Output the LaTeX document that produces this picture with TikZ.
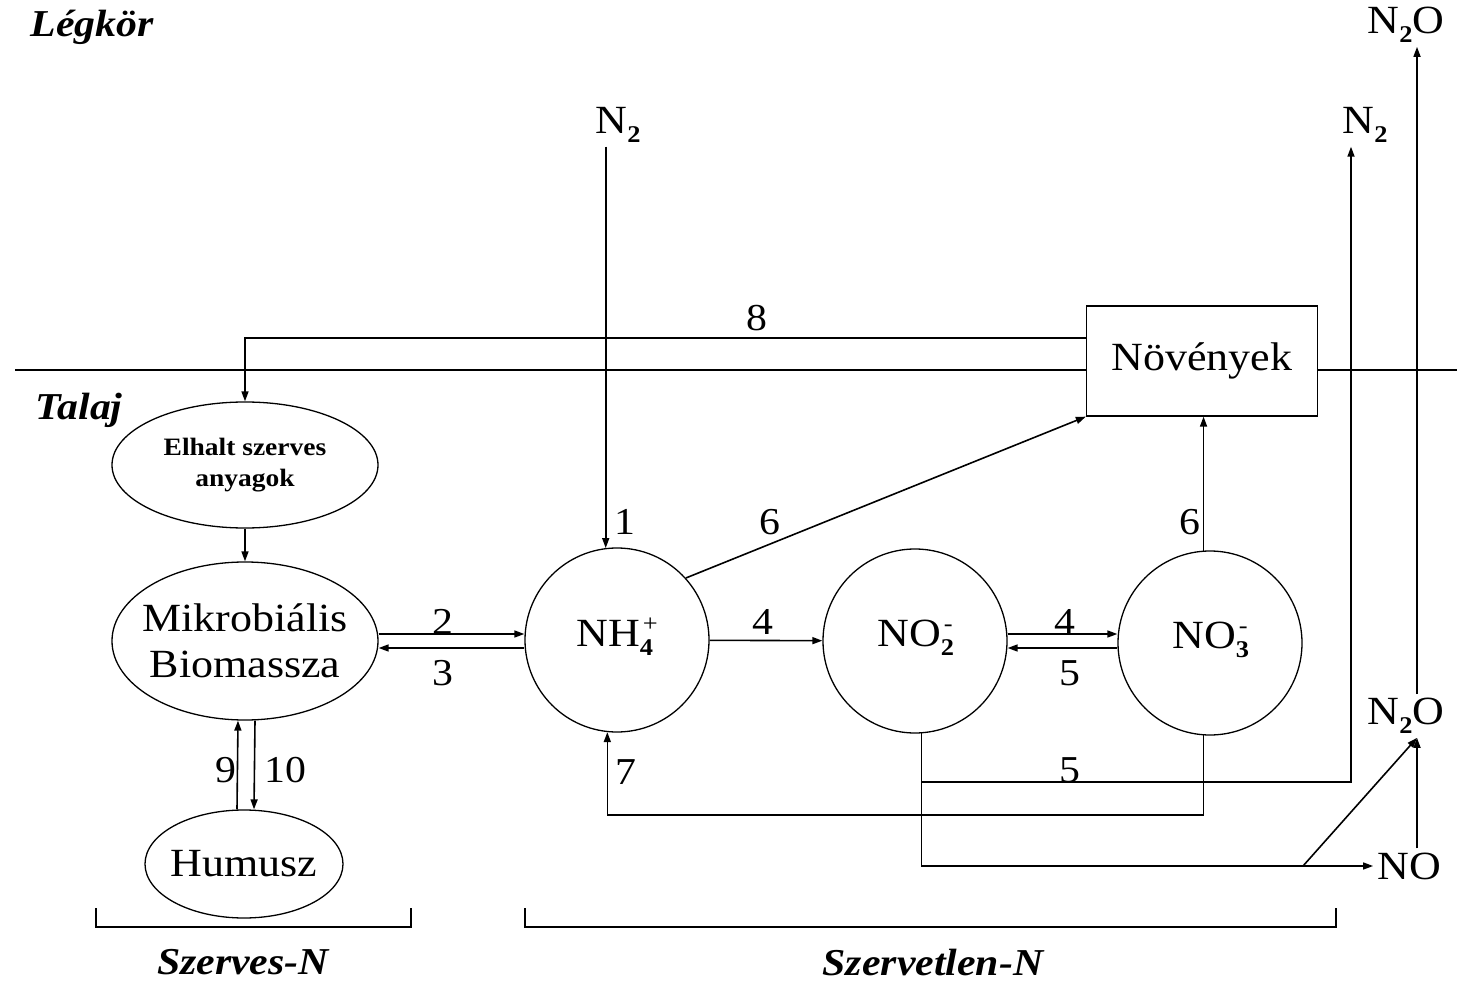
\documentclass[tikz,border=0pt]{standalone}
\usepackage{fontspec}
\setmainfont{Liberation Serif}[FakeStretch=1.1]
\usetikzlibrary{shapes.geometric,arrows.meta,positioning}

\newcommand{\txt}{\fontsize{40}{46}\selectfont}
\newcommand{\idx}{\fontsize{24}{24}\selectfont\bfseries}
\newcommand{\sml}{\fontsize{24}{24}\selectfont}
% chemical label: base, lower index, upper index
\newcommand{\chem}[3]{#1\rlap{\raisebox{-9pt}{\idx #2}}\hspace{3pt}\raisebox{15pt}{\sml #3}}

\tikzset{%
        pool/.style={
                circle,
                draw,
                line width=1.3pt,
                minimum size=184pt,
                inner sep=0pt
            },
        blob/.style={
                ellipse,
                draw,
                line width=1.3pt,
                inner sep=0pt
            },
        box/.style={
                rectangle,
                draw,
                line width=1.3pt,
                minimum width=231pt,
                minimum height=110pt
            },
        flow/.style={-{Triangle[length=10pt,width=7pt]}},
        num/.style={font=\fontsize{38}{40}\selectfont, inner sep=0pt},
        heading/.style={font=\fontsize{38}{40}\selectfont\bfseries\itshape, inner sep=0pt}
    }

\begin{document}
\begin{tikzpicture}[x=1pt, y=-1pt, line width=1.6pt, every node/.style={font=\txt, align=center}]
    \useasboundingbox (0,0) rectangle (1457,981);

    % headings:
        \node [heading, anchor=west] (legkor) at (30,27) {Légkör};
        \node [heading, anchor=west] (talaj) at (35,410) {Talaj};
        \node [heading] (szerves) at (243,962) {Szerves-N};
        \node [heading] (szervetlen) at (933,962) {Szervetlen-N};

    % pools:
        \node [box]  (noveny) at (1202,361) {Növények};
        \node [blob, minimum width=266pt, minimum height=126pt] (elhalt) at (245,465) {};
        \node [font=\fontsize{25}{31}\selectfont\bfseries] (elhalttxt) at (elhalt) {Elhalt szerves\\anyagok};
        \node [blob, minimum width=266pt, minimum height=158pt] (mikro) at (245,641) {};
        \node (mikrotxt) at (mikro) {Mikrobiális\\Biomassza};
        \node [blob, minimum width=198pt, minimum height=108pt] (humusz) at (244,864) {};
        \node (humusztxt) at (humusz) {Humusz};
        \node [pool]  (nh4) at (617,640) {\raisebox{15pt}{\chem{NH}{4}{+}}};
        \node [pool]  (no2) at (915,641) {\raisebox{15pt}{\chem{NO}{2}{-}}};
        \node [pool]  (no3) at (1210,643) {\raisebox{15pt}{\chem{NO}{3}{-}}};

    % gases:
        \node (n2a) at (613,125) {\chem{N}{2}{}};
        \node (n2b) at (1360,125) {\chem{N}{2}{}};
        \node (n2oa) at (1406,25) {N\raisebox{-9pt}{\idx 2}O};
        \node (n2ob) at (1406,716) {N\raisebox{-9pt}{\idx 2}O};
        \node (no) at (1409,866) {NO};

    % helper points:
        \coordinate (y8) at (0,338);
        \coordinate (y5) at (0,782);
        \coordinate (y7) at (0,815);
        \coordinate (splitx) at (1303,0);
        \coordinate (split) at (splitx |- no.west);
        \coordinate (n2oin) at ([xshift=11pt]n2ob.south);

    % soil surface:
        \coordinate (soilL) at (15,370);
        \coordinate (soilR) at (1457,370);
        \draw (soilL) -- (noveny.west |- soilL);
        \draw (noveny.east |- soilR) -- (soilR);

    % fluxes:
        \draw[flow] (noveny.west |- y8) -| (elhalt.north);
        \draw[flow] (elhalt) -- (mikro);
        \draw[flow] (n2a.south -| nh4.97) -- (nh4.97);
        \draw[flow] ([yshift=7pt]mikro.east) -- ([yshift=7pt]mikro.east -| nh4.west);
        \draw[flow] ([yshift=-7pt]mikro.east -| nh4.west) -- ([yshift=-7pt]mikro.east);
        \draw[flow] (nh4) -- (no2);
        \draw[flow] ([yshift=7pt]no2.east) -- ([yshift=7pt]no2.east -| no3.west);
        \draw[flow] ([yshift=-7pt]no2.east -| no3.west) -- ([yshift=-7pt]no2.east);
        \draw[flow] (nh4.42) -- (noveny.south west);
        \draw[flow] (no3.94) -- (no3.94 |- noveny.south);
        \draw[flow] (no3.266) |- (y7 -| nh4.264) -- (nh4.264);
        \draw[flow] (no2.274) |- (no.west);
        \draw[flow] (no2.274 |- y5) -| ([xshift=-9pt]n2b.south);
        \draw[flow] (split) -- (n2oin);
        \draw[flow] (no.north -| n2oin) -- (n2oin);
        \draw[flow] (n2ob.north -| n2oin) -- (n2oa.south -| n2oin);
        \draw[flow] ([xshift=-7pt]humusz.north) -- ([xshift=-7pt]mikro.south);
        \draw[flow] ([xshift=10pt]mikro.south) -- ([xshift=10pt]humusz.north);

    % flux numbers:
        \node [num] (l1) at (625,522) {1};
        \node [num] (l2) at (443,622) {2};
        \node [num] (l3) at (443,673) {3};
        \node [num] (l4a) at (763,622) {4};
        \node [num] (l4b) at (1065,622) {4};
        \node [num] (l5a) at (1070,673) {5};
        \node [num] (l5b) at (1070,770) {5};
        \node [num] (l6a) at (770,522) {6};
        \node [num] (l6b) at (1190,522) {6};
        \node [num] (l7) at (626,772) {7};
        \node [num] (l8) at (757,318) {8};
        \node [num] (l9) at (226,770) {9};
        \node [num] (l10) at (285,770) {10};

    % brackets:
        \draw (96,908) |- (411,927) -- (411,908);
        \draw (525,908) |- (1336,927) -- (1336,908);
\end{tikzpicture}
\end{document}
